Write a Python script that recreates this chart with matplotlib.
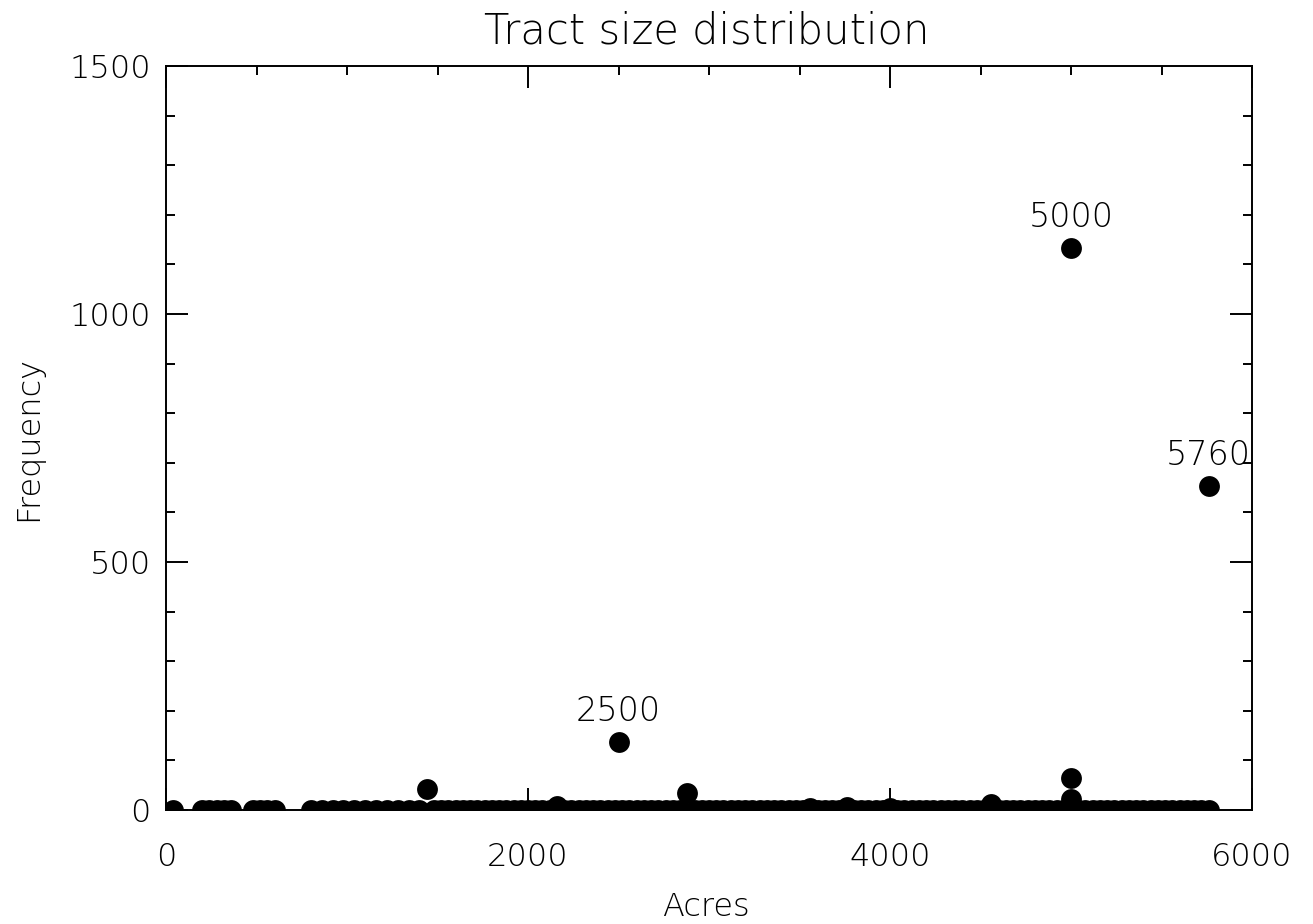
import matplotlib
matplotlib.use("Agg")
from matplotlib import pyplot as plt
from matplotlib.ticker import MultipleLocator

# Tract sizes (acres) and how often each occurs
acres_small = [40, 200, 240, 280, 320, 360, 480, 520, 560, 600,
               800, 860, 920, 980, 1040, 1100, 1160, 1220, 1280, 1340, 1400, 1440]
freq_small = [1, 1, 1, 1, 1, 1, 1, 1, 1, 1,
              1, 1, 1, 1, 1, 1, 1, 1, 1, 1, 1, 42]

acres_band = [1480, 1520, 1560, 1600, 1640, 1680, 1720, 1760, 1800, 1840,
              1880, 1920, 1960, 2000, 2040, 2080, 2120, 2160, 2200, 2240,
              2280, 2320, 2360, 2400, 2440, 2480, 2520, 2560, 2600, 2640,
              2680, 2720, 2760, 2800, 2840, 2880, 2920, 2960, 3000, 3040,
              3080, 3120, 3160, 3200, 3240, 3280, 3320, 3360, 3400, 3440,
              3480, 3520, 3560, 3600, 3640, 3680, 3720, 3760, 3800, 3840,
              3880, 3920, 3960, 4000, 4040, 4080, 4120, 4160, 4200, 4240,
              4280, 4320, 4360, 4400, 4440, 4480, 4520, 4560, 4600, 4640,
              4680, 4720, 4760, 4800, 4840, 4880, 4920, 4960, 5000, 5040,
              5080, 5120, 5160, 5200, 5240, 5280, 5320, 5360, 5400, 5440,
              5480, 5520, 5560, 5600, 5640, 5680, 5720, 5760]
freq_band = [1, 1, 1, 1, 1, 1, 1, 1, 1, 1,
             1, 1, 1, 1, 1, 1, 1, 9, 1, 1,
             1, 1, 1, 1, 1, 1, 1, 1, 1, 1,
             1, 1, 1, 1, 1, 34, 1, 1, 1, 1,
             1, 1, 1, 1, 1, 1, 1, 1, 1, 1,
             1, 1, 5, 1, 1, 1, 1, 7, 1, 1,
             1, 1, 1, 5, 1, 1, 1, 1, 1, 1,
             1, 1, 1, 1, 1, 1, 1, 13, 1, 1,
             1, 1, 1, 1, 1, 1, 1, 1, 22, 1,
             1, 1, 1, 1, 1, 1, 1, 1, 1, 1,
             1, 1, 1, 1, 1, 1, 1, 1]

acres_peak = [2500, 5000, 5000, 5760]
freq_peak = [137, 1133, 64, 653]

labelled = [2500, 5000, 5760]
labelled_freq = [137, 1133, 653]

acres = acres_small + acres_band + acres_peak
freq = freq_small + freq_band + freq_peak

plt.rcParams['font.family'] = ['DejaVu Sans']

fig = plt.figure(figsize=(13.13, 9.24), dpi=100)
ax = fig.add_axes([166 / 1313, 1 - 810 / 924, (1252 - 166) / 1313, (810 - 66) / 924])

ax.plot(acres, freq, 'o', color='black', markersize=15, markeredgewidth=0,
        clip_on=True)

for a, f in zip(labelled, labelled_freq):
    ax.annotate(str(a), (a, f), xytext=(0, 22), textcoords='offset points',
                ha='center', va='center', fontsize=24, fontweight='light')

ax.set_xlim(0, 6000)
ax.set_ylim(0, 1500)
ax.xaxis.set_major_locator(MultipleLocator(2000))
ax.xaxis.set_minor_locator(MultipleLocator(500))
ax.yaxis.set_major_locator(MultipleLocator(500))
ax.yaxis.set_minor_locator(MultipleLocator(100))

ax.tick_params(which='both', direction='in', top=True, right=True, width=1.4,
               labelsize=23)
ax.tick_params(which='major', length=16)
ax.tick_params(which='minor', length=6.5)
ax.tick_params(axis='x', which='major', pad=23)
ax.tick_params(axis='y', which='major', pad=11)
for lab in ax.get_xticklabels() + ax.get_yticklabels():
    lab.set_fontweight('light')
for sp in ax.spines.values():
    sp.set_linewidth(1.4)

fig.text(707 / 1313, 1 - 43 / 924, "Tract size distribution", ha='center',
         va='baseline', fontsize=30, fontweight='light')
fig.text(706 / 1313, 1 - 916 / 924, "Acres", ha='center', va='baseline',
         fontsize=23, fontweight='light')
fig.text(28 / 1313, 1 - 438 / 924, "Frequency", ha='center', va='center',
         rotation=90, fontsize=23, fontweight='light')

fig.savefig("out.png", dpi=100, facecolor='white')
